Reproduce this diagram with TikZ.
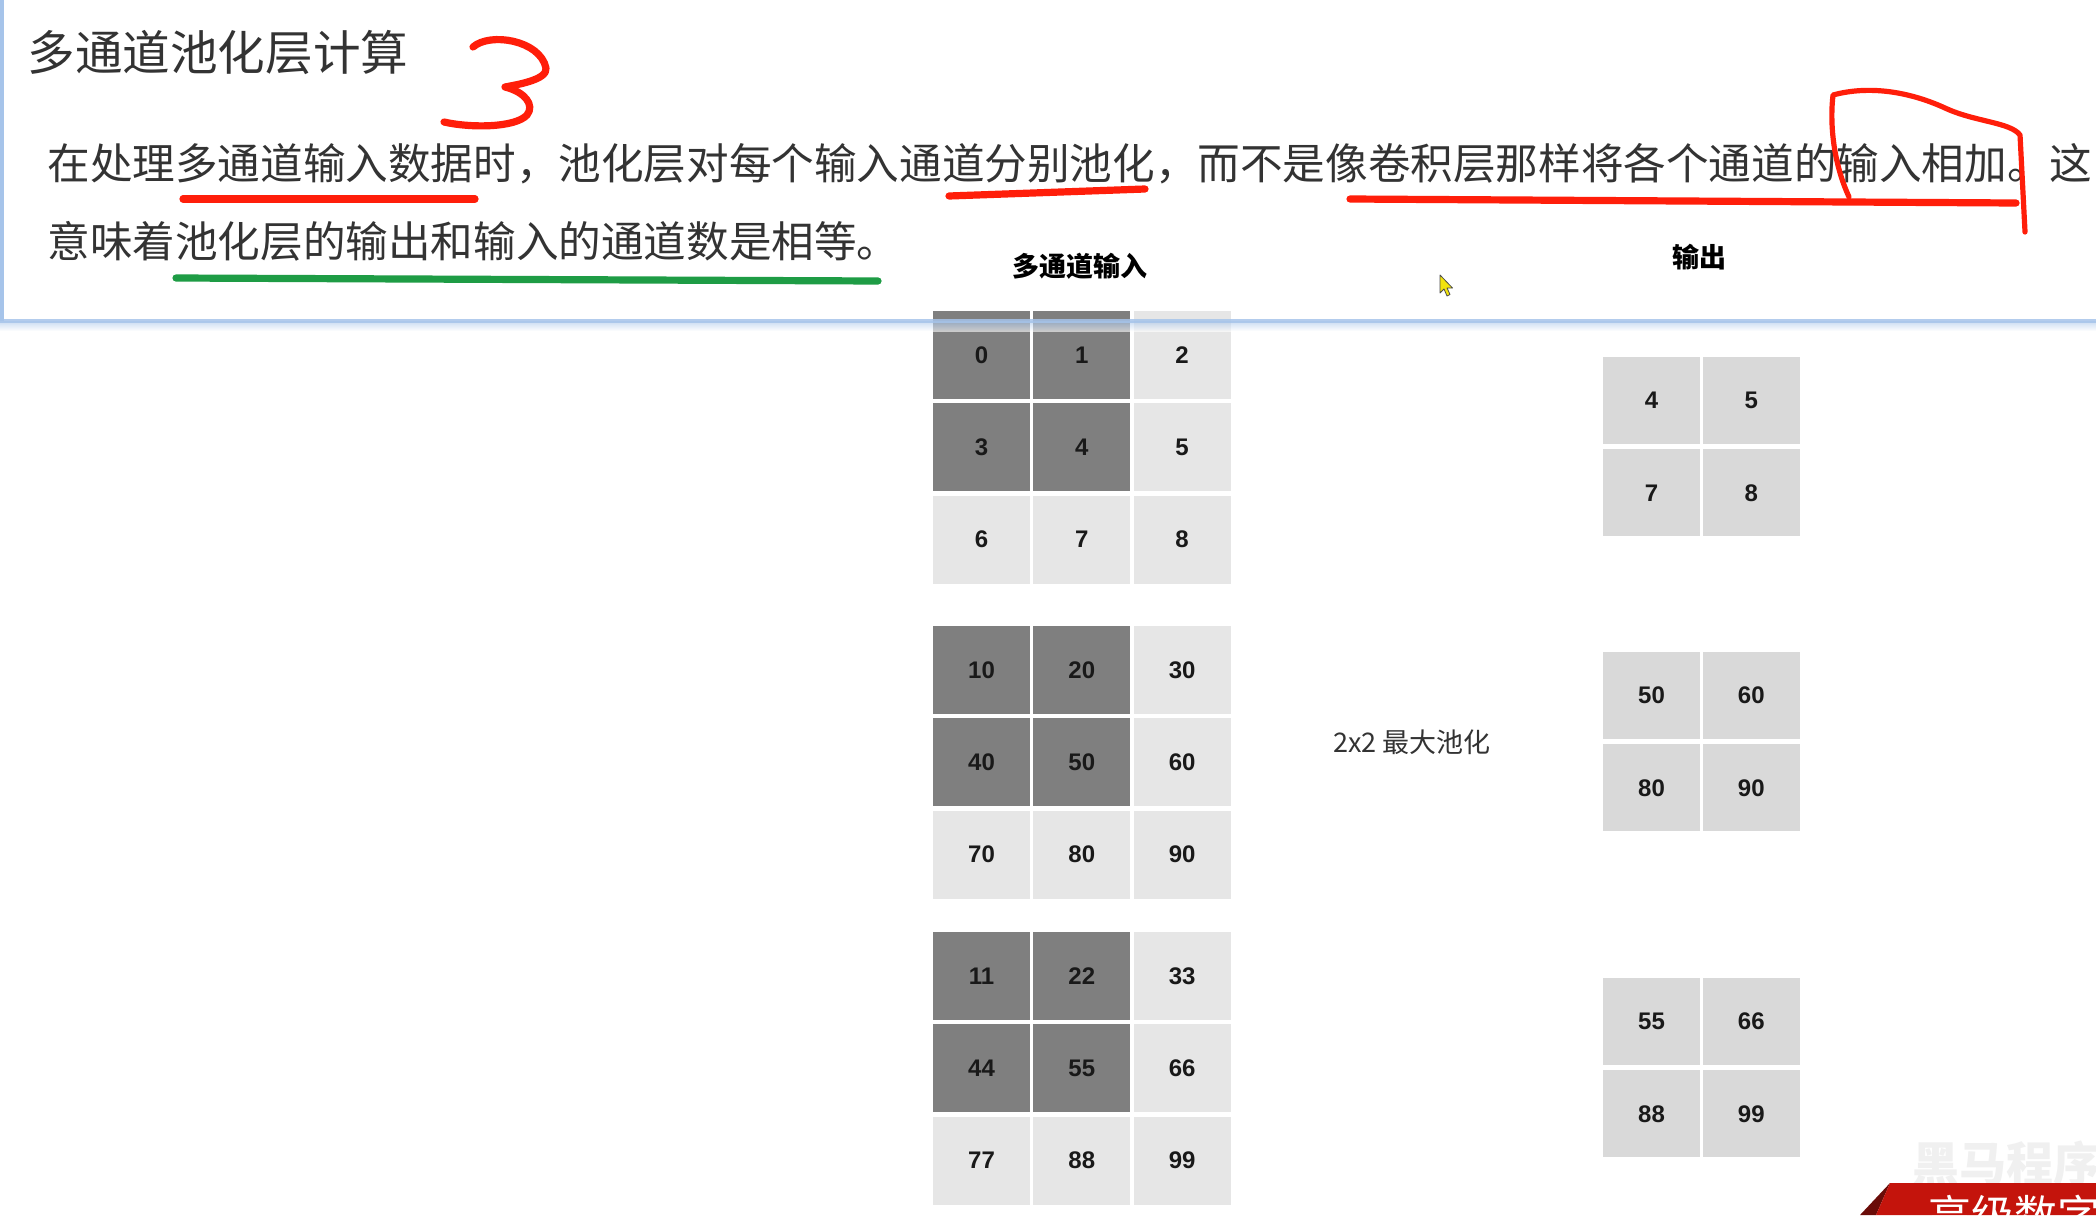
\documentclass[tikz,border=0pt]{standalone}
\usepackage{fontspec}
\setmainfont{Noto Sans CJK SC}
\newfontfamily\cellfont{Liberation Sans}
\usetikzlibrary{positioning, shadings}
\definecolor{cellDark}{HTML}{7F7F7F}
\definecolor{cellLight}{HTML}{E6E6E6}
\definecolor{cellOut}{HTML}{D9D9D9}
\definecolor{textDark}{HTML}{333333}
\definecolor{panelBlue}{HTML}{A6C4EA}
\definecolor{penRed}{HTML}{FF1E0A}
\definecolor{penGreen}{HTML}{1E9C45}
\definecolor{bannerRed}{HTML}{C4140C}
\definecolor{bannerDark}{HTML}{6A0C08}
\definecolor{cursorYellow}{HTML}{F2E30C}
\tikzset{
    pool_cell/.style={
        rectangle,
        minimum width=48.5pt,
        minimum height=44pt,
        inner sep=0pt,
        text=black!90,
        font=\cellfont\bfseries\fontsize{12}{14}\selectfont
    },
    pool_dark/.style={pool_cell, fill=cellDark},
    pool_light/.style={pool_cell, fill=cellLight},
    pool_out/.style={pool_cell, fill=cellOut, minimum height=43.5pt},
    pool_label/.style={
        inner sep=0pt,
        text=black,
        font=\bfseries\fontsize{13.5}{15}\selectfont
    },
    pool_op/.style={
        inner sep=0pt,
        text=textDark,
        font=\fontsize{13.5}{15}\selectfont
    },
    slide_title/.style={
        anchor=west,
        inner sep=0pt,
        text=textDark,
        font=\fontsize{23.8}{26}\selectfont
    },
    slide_text/.style={
        anchor=west,
        inner sep=0pt,
        text=textDark,
        font=\fontsize{21.3}{24}\selectfont
    },
    panel_edge/.style={draw=panelBlue, line width=1.6pt},
    pen_red/.style={draw=penRed, line width=3.6pt, line cap=round, line join=round},
    pen_green/.style={draw=penGreen, line width=3.6pt, line cap=round},
    cursor_arrow/.style={fill=cursorYellow, draw=black!70, line width=0.4pt, line join=round}
}

\begin{document}
\begin{tikzpicture}[x=0.5pt, y=-0.5pt, node distance=1.75pt and 1.25pt]
\useasboundingbox (0,0) rectangle (2096,1215);
\fill[white] (0,0) rectangle (2096,1215);

% --- Slide panel ---
\draw[panel_edge] (2,0) -- (2,321);

% --- Heading and text ---
\node[slide_title] (title) at (27,53) {多通道池化层计算};
\node[slide_text] (line1) at (47,164) {在处理多通道输入数据时，池化层对每个输入通道分别池化，而不是像卷积层那样将各个通道的输入相加。这};
\node[slide_text] (line2) at (47,241) {意味着池化层的输出和输入的通道数是相等。};

% --- Input channel 1 ---
\node[pool_dark] (inA1) at (981.5,355) {0};
\node[pool_dark, right=of inA1] (inA2) {1};
\node[pool_light, right=of inA2] (inA3) {2};
\node[pool_dark, below=of inA1] (inA4) {3};
\node[pool_dark, right=of inA4] (inA5) {4};
\node[pool_light, right=of inA5] (inA6) {5};
\node[pool_light, below=of inA4] (inA7) {6};
\node[pool_light, right=of inA7] (inA8) {7};
\node[pool_light, right=of inA8] (inA9) {8};

% --- Input channel 2 ---
\node[pool_dark] (inB1) at (981.5,670) {10};
\node[pool_dark, right=of inB1] (inB2) {20};
\node[pool_light, right=of inB2] (inB3) {30};
\node[pool_dark, below=of inB1] (inB4) {40};
\node[pool_dark, right=of inB4] (inB5) {50};
\node[pool_light, right=of inB5] (inB6) {60};
\node[pool_light, below=of inB4] (inB7) {70};
\node[pool_light, right=of inB7] (inB8) {80};
\node[pool_light, right=of inB8] (inB9) {90};

% --- Input channel 3 ---
\node[pool_dark] (inC1) at (981.5,976) {11};
\node[pool_dark, right=of inC1] (inC2) {22};
\node[pool_light, right=of inC2] (inC3) {33};
\node[pool_dark, below=of inC1] (inC4) {44};
\node[pool_dark, right=of inC4] (inC5) {55};
\node[pool_light, right=of inC5] (inC6) {66};
\node[pool_light, below=of inC4] (inC7) {77};
\node[pool_light, right=of inC7] (inC8) {88};
\node[pool_light, right=of inC8] (inC9) {99};

% --- Outputs ---
\node[pool_out] (outA1) at (1651.5,400) {4};
\node[pool_out, right=1pt of outA1] (outA2) {5};
\node[pool_out, below=2.5pt of outA1] (outA3) {7};
\node[pool_out, right=1pt of outA3] (outA4) {8};

\node[pool_out] (outB1) at (1651.5,695) {50};
\node[pool_out, right=1pt of outB1] (outB2) {60};
\node[pool_out, below=2.5pt of outB1] (outB3) {80};
\node[pool_out, right=1pt of outB3] (outB4) {90};

\node[pool_out] (outC1) at (1651.5,1021) {55};
\node[pool_out, right=1pt of outC1] (outC2) {66};
\node[pool_out, below=2.5pt of outC1] (outC3) {88};
\node[pool_out, right=1pt of outC3] (outC4) {99};

% --- Labels ---
\node[pool_label] (inLabel) at (1080,266) {多通道输入};
\node[pool_label] (outLabel) at (1699,257) {输出};
\node[pool_op] (opLabel) at (1412,742) {2x2 最大池化};

% --- Panel edge over the cells ---
\shade[top color=panelBlue, bottom color=white, opacity=0.6] (0,321) rectangle (2096,331);
\draw[panel_edge, opacity=0.85] (0,321) -- (2096,321);

% --- Pen marks ---
\draw[pen_red] (473,47) .. controls (490,32) and (540,40) .. (546,68)
    .. controls (548,80) and (515,85) .. (505,87)
    .. controls (525,92) and (535,105) .. (527,115)
    .. controls (515,128) and (470,128) .. (444,122);
\draw[pen_red] (183,199) -- (475,199);
\draw[pen_red] (949,196) -- (1145,189);
\draw[pen_red] (1350,199) -- (2016,203);
\draw[pen_red, line width=2.6pt] (1849,197) .. controls (1832,160) and (1830,120) .. (1833,95)
    .. controls (1870,85) and (1910,92) .. (1945,108)
    .. controls (1975,122) and (2010,122) .. (2020,135) -- (2025,232);
\draw[pen_green] (176,278) -- (878,281);

% --- Cursor ---
\draw[cursor_arrow] (1440,275) -- ++(0,18) -- ++(4,-4) -- ++(3,7) -- ++(3,-1.5) -- ++(-3,-6.5) -- ++(5.5,0) -- cycle;

% --- Corner watermark ---
\begin{scope}
\clip (0,0) rectangle (2096,1215);
\node[anchor=base west, inner sep=0pt, text=gray!12, font=\bfseries\fontsize{23.5}{25}\selectfont] (mark) at (1912,1181) {黑马程序员};
\fill[bannerDark] (1890,1183) -- (1860,1215) -- (1876,1215) -- cycle;
\fill[bannerRed] (1890,1183) -- (2096,1183) -- (2096,1215) -- (1876,1215) -- cycle;
\node[anchor=base west, inner sep=0pt, text=white, font=\fontsize{21.5}{23}\selectfont] (banner) at (1928,1231) {高级数字};
\end{scope}

\end{tikzpicture}
\end{document}
